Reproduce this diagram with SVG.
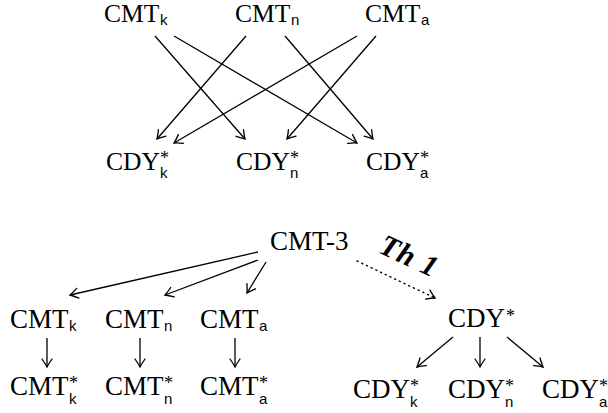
<svg xmlns="http://www.w3.org/2000/svg" width="608" height="413" viewBox="0 0 608 413">
<style>
.m{font-family:"Liberation Serif","Times New Roman",Times,"DejaVu Serif",serif;font-size:27px;fill:#000}
.t{font-family:"Liberation Serif","Times New Roman",Times,"DejaVu Serif",serif;font-size:25.5px;fill:#000}
.s{font-family:"Liberation Sans Narrow","Liberation Sans",Arial,sans-serif;font-size:15px;fill:#000}
.st{font-family:"Liberation Serif","Times New Roman",Times,serif;font-size:18px;fill:#000}
.c{stroke:#000;stroke-width:1.3;fill:none;marker-end:url(#ah)}
.d{stroke:#000;stroke-width:1.4;fill:none;stroke-dasharray:1.2 4;stroke-linecap:round;marker-end:url(#ah)}
.lb{font-family:"Liberation Serif","Times New Roman",Times,serif;font-size:30px;font-weight:bold;font-style:italic;fill:#000}
</style>
<defs>
<marker id="ah" markerUnits="userSpaceOnUse" markerWidth="20" markerHeight="20" viewBox="-10 -10 20 20" refX="0" refY="0" orient="auto">
<path d="M-8,-5 Q-3,-1.5 0,0 Q-3,1.5 -8,5" fill="none" stroke="#000" stroke-width="1.3" stroke-linecap="round"/>
</marker>
</defs>
<g id="connectors">
<line class="c" x1="155" y1="36" x2="245" y2="139"/>
<line class="c" x1="174" y1="36" x2="357" y2="143"/>
<line class="c" x1="246" y1="36" x2="157" y2="139"/>
<line class="c" x1="285" y1="36" x2="373" y2="139"/>
<line class="c" x1="357" y1="36" x2="174" y2="143"/>
<line class="c" x1="376" y1="36" x2="287" y2="139"/>
<line class="c" x1="258" y1="252" x2="70" y2="295"/>
<line class="c" x1="258" y1="260" x2="165" y2="295"/>
<line class="c" x1="266" y1="262" x2="247" y2="293"/>
<line class="d" x1="357" y1="261" x2="435" y2="298"/>
<line class="c" x1="47" y1="338" x2="47" y2="367"/>
<line class="c" x1="140" y1="338" x2="140" y2="367"/>
<line class="c" x1="235" y1="338" x2="235" y2="367"/>
<line class="c" x1="453" y1="337" x2="417" y2="367"/>
<line class="c" x1="480" y1="337" x2="480" y2="367"/>
<line class="c" x1="507" y1="337" x2="543" y2="367"/>
<text class="lb" transform="translate(405,265) rotate(25)" text-anchor="middle" letter-spacing="1">Th 1</text>
</g>
<g id="top-cmt-k"><text class="t" x="104" y="22">CMT</text><text class="s" x="160" y="25">k</text></g>
<g id="top-cmt-n"><text class="t" x="235" y="22">CMT</text><text class="s" x="291" y="25">n</text></g>
<g id="top-cmt-a"><text class="t" x="365" y="22">CMT</text><text class="s" x="421" y="25">a</text></g>
<g id="top-cdy-k"><text class="t" x="106" y="170">CDY</text><text class="st" x="160" y="164">*</text><text class="s" x="160" y="178">k</text></g>
<g id="top-cdy-n"><text class="t" x="236" y="170">CDY</text><text class="st" x="290" y="164">*</text><text class="s" x="290" y="178">n</text></g>
<g id="top-cdy-a"><text class="t" x="366" y="170">CDY</text><text class="st" x="420" y="164">*</text><text class="s" x="420" y="178">a</text></g>
<g id="cmt3"><text class="m" x="270" y="250">CMT-3</text></g>
<g id="cmt-k"><text class="m" x="10" y="328">CMT</text><text class="s" x="69" y="331">k</text></g>
<g id="cmt-n"><text class="m" x="105" y="328">CMT</text><text class="s" x="164" y="331">n</text></g>
<g id="cmt-a"><text class="m" x="200" y="328">CMT</text><text class="s" x="259" y="331">a</text></g>
<g id="cmts-k"><text class="m" x="10" y="395">CMT</text><text class="st" x="69" y="389">*</text><text class="s" x="69" y="404">k</text></g>
<g id="cmts-n"><text class="m" x="105" y="395">CMT</text><text class="st" x="164" y="389">*</text><text class="s" x="164" y="404">n</text></g>
<g id="cmts-a"><text class="m" x="200" y="395">CMT</text><text class="st" x="259" y="389">*</text><text class="s" x="259" y="404">a</text></g>
<g id="cdy"><text class="m" x="448" y="327">CDY</text><text class="st" x="506" y="322">*</text></g>
<g id="cdy-k"><text class="m" x="353" y="398">CDY</text><text class="st" x="410" y="392">*</text><text class="s" x="410" y="407">k</text></g>
<g id="cdy-n"><text class="m" x="448" y="398">CDY</text><text class="st" x="505" y="392">*</text><text class="s" x="505" y="407">n</text></g>
<g id="cdy-a"><text class="m" x="542" y="398">CDY</text><text class="st" x="599" y="392">*</text><text class="s" x="599" y="407">a</text></g>
</svg>
